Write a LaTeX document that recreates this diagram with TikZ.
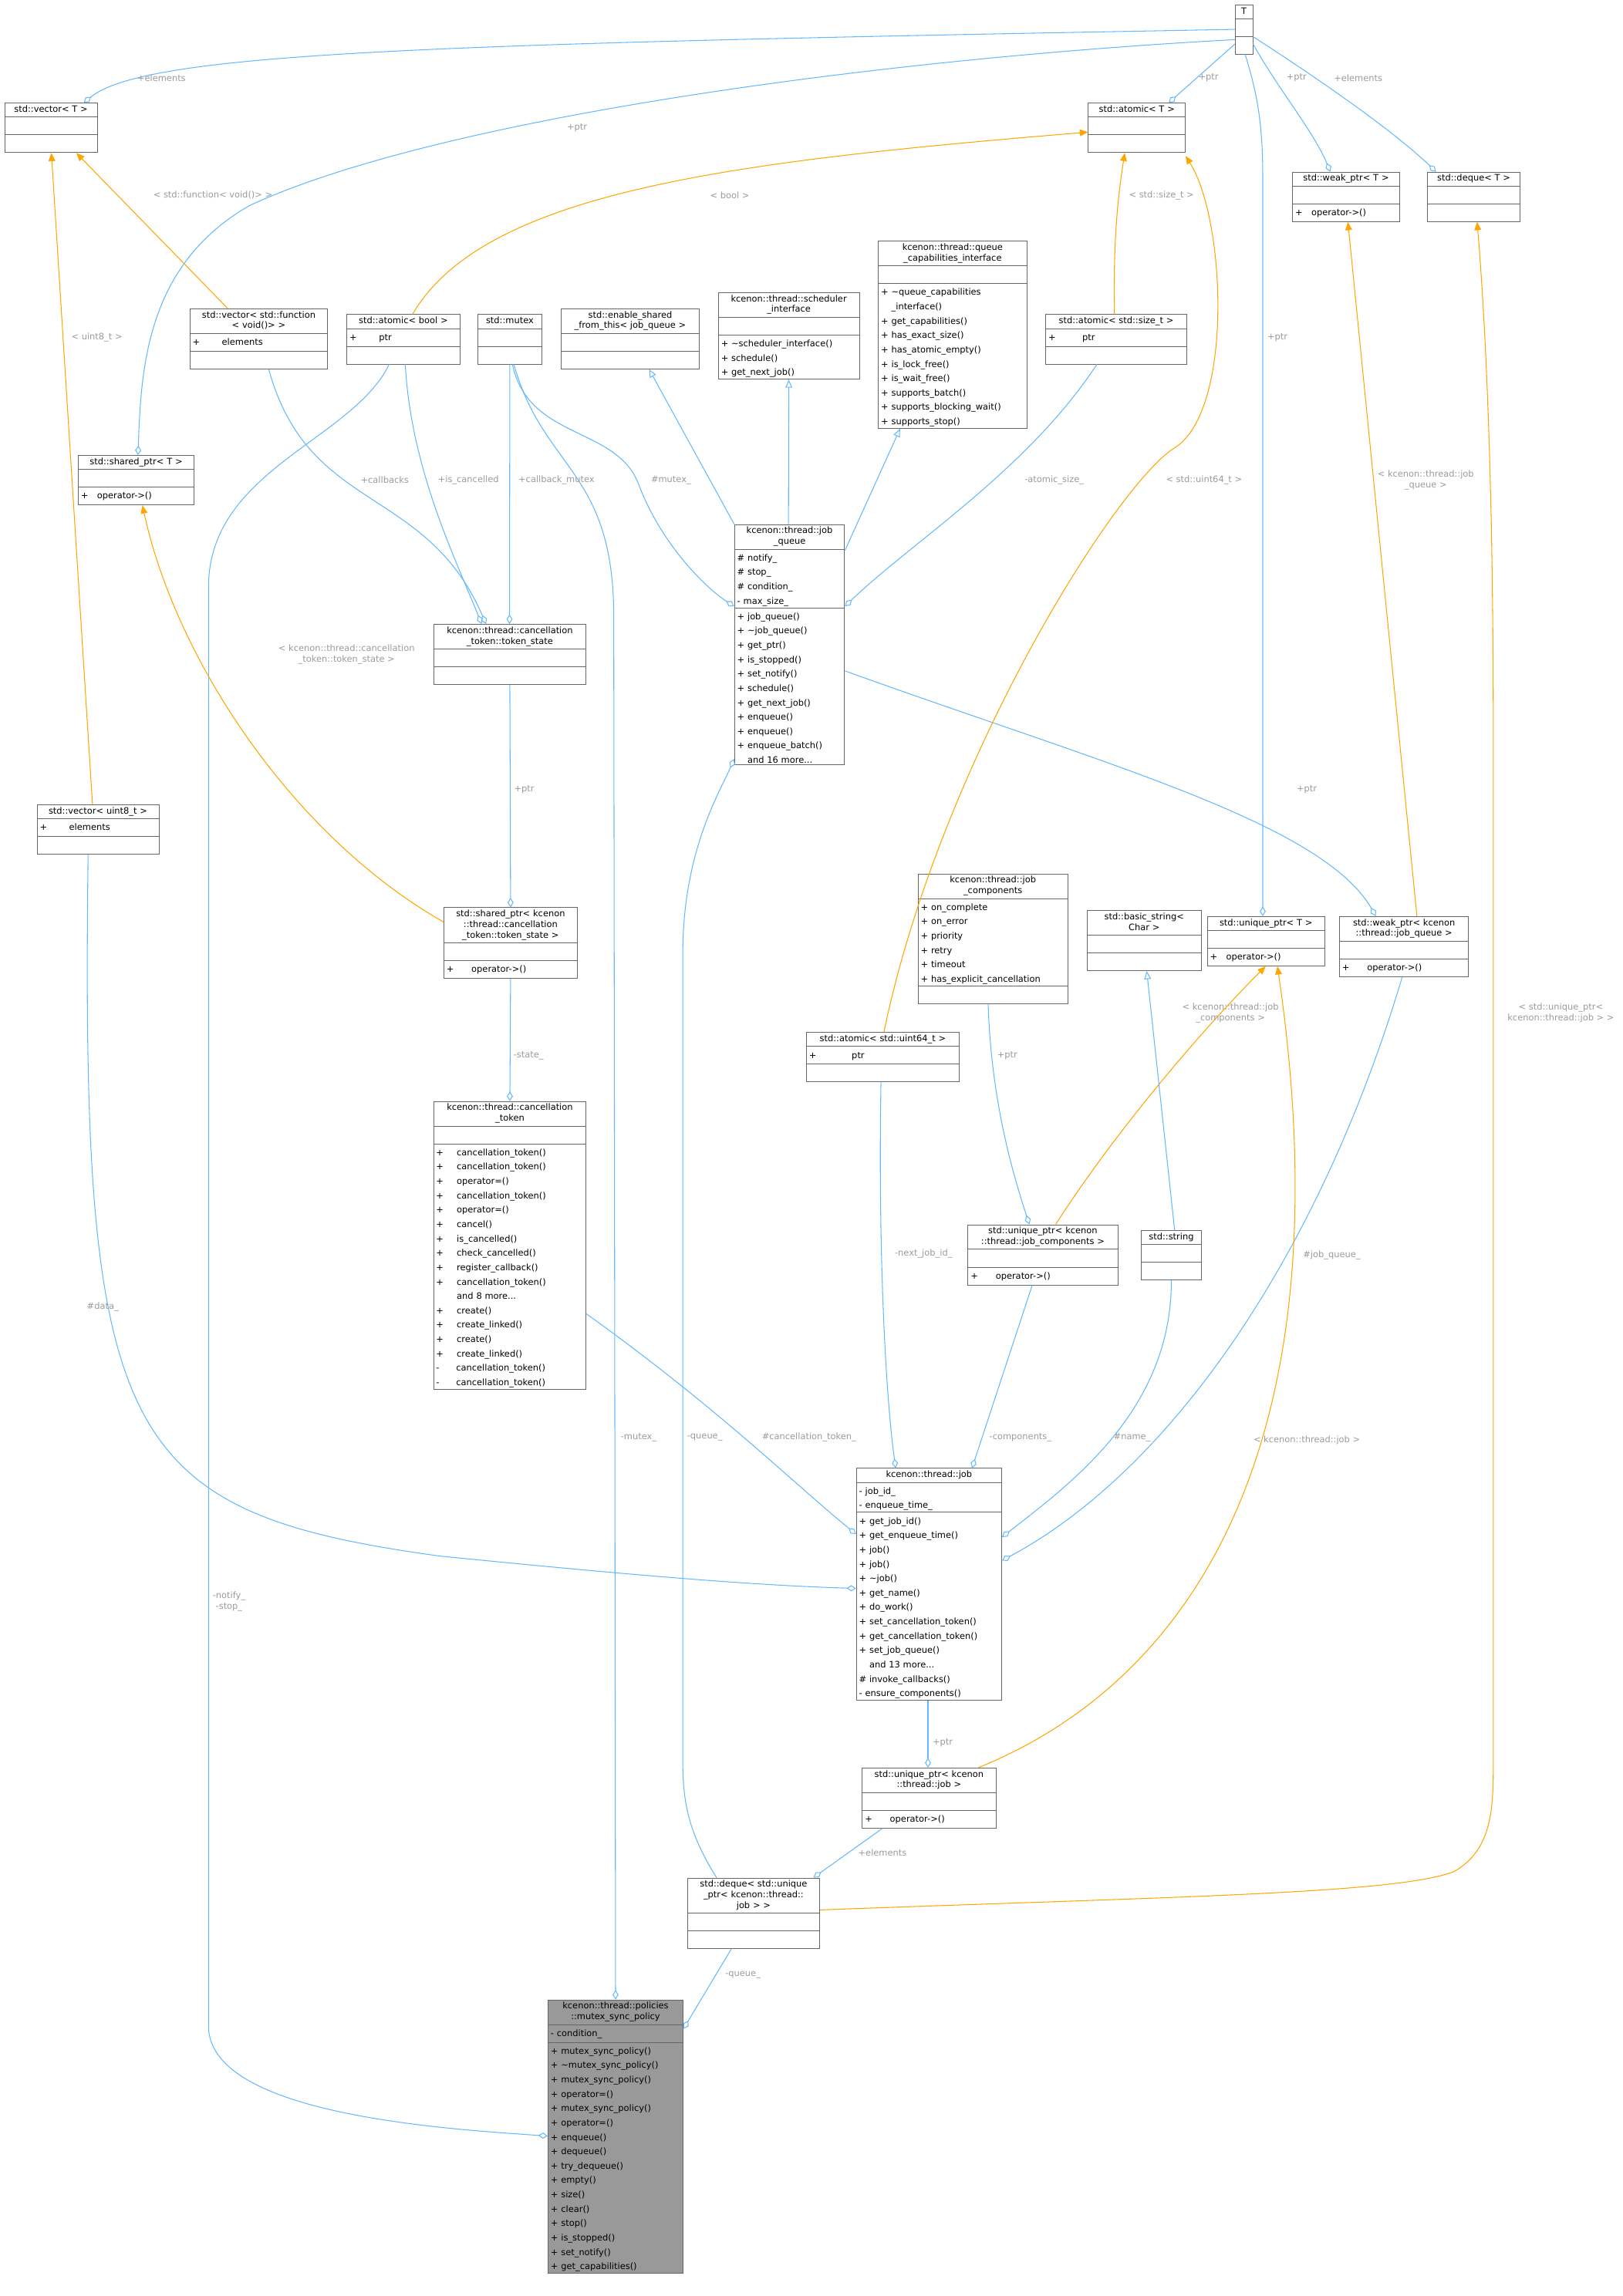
\documentclass[tikz,border=0pt]{standalone}
\usepackage{fontspec}
\setmainfont{DejaVu Sans}
\usepackage{tikz}
\usetikzlibrary{arrows.meta,shapes.multipart,calc}
\definecolor{eblue}{HTML}{63B8FF}
\definecolor{eorange}{HTML}{FFA500}
\definecolor{lgray}{HTML}{9A9A9A}
\definecolor{bgray}{HTML}{666666}
\tikzstyle{cls} = [draw=bgray, fill=white, line width=.5pt, rectangle split, rectangle split parts=3,
  anchor=north west, inner xsep=2pt, inner ysep=1pt, align=left, font=\fontsize{6.5}{10.6}\selectfont]
\tikzstyle{agg} = [draw=eblue, line width=.6pt, -{Diamond[open,length=7pt,width=4.5pt]}]
\tikzstyle{inh} = [draw=eblue, line width=.6pt, -{Triangle[open,length=6pt,width=5pt]}]
\tikzstyle{tpl} = [draw=eorange, line width=.6pt, -{Triangle[length=6pt,width=5pt]}]
\tikzstyle{lbl} = [text=lgray, font=\fontsize{6.5}{8}\selectfont, align=center, inner sep=0pt]
\newcommand\umlclass[8][]{%
  \pgfmathsetlengthmacro\clswidth{#5*0.03806cm-4pt}%
  \node[cls,text width=\clswidth,#1] (#2) at (#3,#4)
    {\renewcommand\arraystretch{0.74}\makebox[\linewidth]{\begin{tabular}{@{}c@{}}#6\end{tabular}}\nodepart{two}\strut#7\nodepart{three}\strut#8};}

\begin{document}
\begin{tikzpicture}[x=0.03806cm, y=-0.03806cm]
\useasboundingbox (0,0) rectangle (1105,1564);

% classes
\umlclass{T}{841}{3}{12}{T}{}{}
\umlclass{vecT}{3}{70}{63}{std::vector< T >}{}{}
\umlclass{atomT}{741}{70}{66}{std::atomic< T >}{}{}
\umlclass{weakT}{880}{117}{73}{std::weak\_ptr< T >}{}{+\quad operator->()}
\umlclass{dequeT}{972}{117}{63}{std::deque< T >}{}{}
\umlclass{qcap}{598}{164}{101}{kcenon::thread::queue\\\_capabilities\_interface}{}{+ \textasciitilde queue\_capabilities\\\phantom{+ }\_interface()\\+ get\_capabilities()\\+ has\_exact\_size()\\+ has\_atomic\_empty()\\+ is\_lock\_free()\\+ is\_wait\_free()\\+ supports\_batch()\\+ supports\_blocking\_wait()\\+ supports\_stop()}
\umlclass{sched}{489}{199}{96}{kcenon::thread::scheduler\\\_interface}{}{+ \textasciitilde scheduler\_interface()\\+ schedule()\\+ get\_next\_job()}
\umlclass{vecfunc}{129}{210}{94}{std::vector< std::function\\< void()> >}{+\hspace{2.5em}elements}{}
\umlclass{atombool}{236}{214}{77}{std::atomic< bool >}{+\hspace{2.5em}ptr}{}
\umlclass{mutex}{325}{214}{44}{std::mutex}{}{}
\umlclass{enable}{382}{210}{94}{std::enable\_shared\\\_from\_this< job\_queue >}{}{}
\umlclass{atomsize}{712}{214}{96}{std::atomic< std::size\_t >}{+\hspace{3em}ptr}{}
\umlclass{sharedT}{53}{310}{79}{std::shared\_ptr< T >}{}{+\quad operator->()}
\umlclass{jobq}{500}{357}{75}{kcenon::thread::job\\\_queue}{\# notify\_\\\# stop\_\\\# condition\_\\- max\_size\_}{+ job\_queue()\\+ \textasciitilde job\_queue()\\+ get\_ptr()\\+ is\_stopped()\\+ set\_notify()\\+ schedule()\\+ get\_next\_job()\\+ enqueue()\\+ enqueue()\\+ enqueue\_batch()\\\phantom{+ }and 16 more...}
\umlclass{tokstate}{295}{425}{104}{kcenon::thread::cancellation\\\_token::token\_state}{}{}
\umlclass{vecu8}{25}{548}{83}{std::vector< uint8\_t >}{+\hspace{2.5em}elements}{}
\umlclass{jobcomp}{625}{595}{102}{kcenon::thread::job\\\_components}{+ on\_complete\\+ on\_error\\+ priority\\+ retry\\+ timeout\\+ has\_explicit\_cancellation}{}
\umlclass{sharedts}{302}{618}{91}{std::shared\_ptr< kcenon\\::thread::cancellation\\\_token::token\_state >}{}{+\hspace{2em}operator->()}
\umlclass{basicstr}{740}{620}{78}{std::basic\_string<\\Char >}{}{}
\umlclass{uniqT}{822}{624}{80}{std::unique\_ptr< T >}{}{+\quad operator->()}
\umlclass{weakjq}{912}{624}{88}{std::weak\_ptr< kcenon\\::thread::job\_queue >}{}{+\hspace{2em}operator->()}
\umlclass{atom64}{549}{703}{104}{std::atomic< std::uint64\_t >}{+\hspace{4em}ptr}{}
\umlclass{ctoken}{295}{750}{104}{kcenon::thread::cancellation\\\_token}{}{+\hspace{1.5em}cancellation\_token()\\+\hspace{1.5em}cancellation\_token()\\+\hspace{1.5em}operator=()\\+\hspace{1.5em}cancellation\_token()\\+\hspace{1.5em}operator=()\\+\hspace{1.5em}cancel()\\+\hspace{1.5em}is\_cancelled()\\+\hspace{1.5em}check\_cancelled()\\+\hspace{1.5em}register\_callback()\\+\hspace{1.5em}cancellation\_token()\\\phantom{+}\hspace{1.5em}and 8 more...\\+\hspace{1.5em}create()\\+\hspace{1.5em}create\_linked()\\+\hspace{1.5em}create()\\+\hspace{1.5em}create\_linked()\\-\hspace{1.9em}cancellation\_token()\\-\hspace{1.9em}cancellation\_token()}
\umlclass{uptrjc}{659}{834}{102}{std::unique\_ptr< kcenon\\::thread::job\_components >}{}{+\hspace{2em}operator->()}
\umlclass{string}{777}{838}{41}{std::string}{}{}
\umlclass{job}{583}{1000}{99}{kcenon::thread::job}{- job\_id\_\\- enqueue\_time\_}{+ get\_job\_id()\\+ get\_enqueue\_time()\\+ job()\\+ job()\\+ \textasciitilde job()\\+ get\_name()\\+ do\_work()\\+ set\_cancellation\_token()\\+ get\_cancellation\_token()\\+ set\_job\_queue()\\\phantom{+ }and 13 more...\\\# invoke\_callbacks()\\- ensure\_components()}
\umlclass{uptrjob}{587}{1204}{91}{std::unique\_ptr< kcenon\\::thread::job >}{}{+\hspace{2em}operator->()}
\umlclass{dequejob}{468}{1279}{90}{std::deque< std::unique\\\_ptr< kcenon::thread::\\job > >}{}{}
\umlclass[fill={rgb,255:red,153;green,153;blue,153}]{msp}{373}{1362}{92}{kcenon::thread::policies\\::mutex\_sync\_policy}{- condition\_}{+ mutex\_sync\_policy()\\+ \textasciitilde mutex\_sync\_policy()\\+ mutex\_sync\_policy()\\+ operator=()\\+ mutex\_sync\_policy()\\+ operator=()\\+ enqueue()\\+ dequeue()\\+ try\_dequeue()\\+ empty()\\+ size()\\+ clear()\\+ stop()\\+ is\_stopped()\\+ set\_notify()\\+ get\_capabilities()}

% members
\draw[agg] ($(T.north west)+(0,17)$) .. controls (300,30) and (100,35) .. ($(vecT.north west)+(54,0)$);
\draw[agg] ($(T.north west)+(0,24)$) .. controls (600,40) and (300,80) .. (170,140) .. controls (100,180) and (96,250) .. ($(sharedT.north west)+(41,0)$);
\draw[agg] ($(T.north west)+(0,27)$) -- ($(atomT.north west)+(55,0)$);
\draw[agg] ($(T.north east)+(0,27)$) .. controls (870,60) and (895,90) .. ($(weakT.north west)+(26,0)$);
\draw[agg] ($(T.north east)+(0,22)$) .. controls (900,55) and (950,90) .. ($(dequeT.north west)+(6,0)$);
\draw[agg] ($(T.north west)+(7,34)$) .. controls (855,60) and (860,80) .. (860,120) -- ($(uniqT.north west)+(38,0)$);
\draw[agg] ($(vecfunc.south west)+(54,0)$) .. controls (210,350) and (290,330) .. ($(tokstate.north west)+(36,0)$);
\draw[agg] ($(atombool.south west)+(40,0)$) .. controls (280,320) and (310,380) .. ($(tokstate.north west)+(33,0)$);
\draw[agg] (mutex.south) -- ($(tokstate.north west)+(52,0)$);
\draw[agg] ($(mutex.south west)+(24,0)$) .. controls (360,300) and (420,290) .. (435,330) .. controls (450,370) and (480,400) .. ($(jobq.north west)+(0,56)$);
\draw[agg] ($(mutex.south west)+(25,0)$) .. controls (370,320) and (418,320) .. (418,420) -- (msp.north);
\draw[agg] ($(atombool.south west)+(29,0)$) .. controls (240,300) and (142,320) .. (142,400) -- (142,1380) .. controls (142,1440) and (300,1450) .. ($(msp.north west)+(0,93)$);
\draw[agg] ($(atomsize.south west)+(35,0)$) .. controls (700,320) and (620,370) .. ($(jobq.north east)+(0,56)$);
\draw[agg] ($(jobq.north east)+(0,100)$) .. controls (750,520) and (900,560) .. ($(weakjq.north west)+(25,0)$);
\draw[agg] (tokstate.south) -- (sharedts.north);
\draw[agg] (sharedts.south) -- (ctoken.north);
\draw[agg] ($(vecu8.south west)+(35,0)$) .. controls (55,980) and (80,1030) .. (300,1060) .. controls (450,1075) and (520,1080) .. ($(job.north west)+(0,82)$);
\draw[agg] ($(ctoken.north east)+(0,145)$) .. controls (490,960) and (540,1010) .. ($(job.north west)+(0,45)$);
\draw[agg] ($(atom64.south west)+(51,0)$) .. controls (598,850) and (603,950) .. ($(job.north west)+(27,0)$);
\draw[agg] ($(jobcomp.south west)+(48,0)$) .. controls (675,750) and (690,800) .. ($(uptrjc.north west)+(42,0)$);
\draw[agg] ($(uptrjc.south west)+(44,0)$) -- ($(job.north west)+(79,0)$);
\draw[agg] (string.south) .. controls (798,960) and (730,1010) .. ($(job.north east)+(0,47)$);
\draw[agg] ($(weakjq.south west)+(43,0)$) .. controls (900,850) and (800,1000) .. ($(job.north east)+(0,63)$);
\draw[agg] ($(job.south west)+(49,0)$) -- ($(uptrjob.north west)+(45,0)$);
\draw[agg] ($(uptrjob.south west)+(14,0)$) -- ($(dequejob.north west)+(86,0)$);
\draw[agg] ($(dequejob.north west)+(20,0)$) .. controls (470,1250) and (465,1230) .. (465,1200) -- (465,650) .. controls (465,580) and (490,540) .. ($(jobq.north west)+(0,160)$);
\draw[agg] ($(dequejob.south west)+(30,0)$) -- ($(msp.north east)+(0,20)$);

% templates
\draw[tpl] ($(vecfunc.north west)+(26,0)$) -- ($(vecT.south west)+(49,0)$);
\draw[tpl] ($(vecu8.north west)+(38,0)$) -- ($(vecT.south west)+(32,0)$);
\draw[tpl] ($(atombool.north west)+(45,0)$) .. controls (330,130) and (500,110) .. ($(atomT.north west)+(0,20)$);
\draw[tpl] ($(atomsize.north west)+(47,0)$) .. controls (758,160) and (762,130) .. ($(atomT.south west)+(25,0)$);
\draw[tpl] ($(atom64.north west)+(53,0)$) .. controls (640,520) and (760,330) .. (800,305) .. controls (840,280) and (835,150) .. ($(atomT.south east)+(0,2)$);
\draw[tpl] ($(sharedts.north west)+(0,10)$) .. controls (200,570) and (120,450) .. ($(sharedT.south west)+(44,0)$);
\draw[tpl] ($(weakjq.north west)+(53,0)$) -- ($(weakT.south west)+(38,0)$);
\draw[tpl] ($(uptrjc.north west)+(60,0)$) .. controls (760,770) and (820,700) .. ($(uniqT.south west)+(40,0)$);
\draw[tpl] ($(uptrjob.north east)+(-12,0)$) .. controls (800,1150) and (920,1000) .. ($(uniqT.south west)+(48,0)$);
\draw[tpl] ($(dequejob.north east)+(0,22)$) .. controls (800,1292) and (950,1290) .. (990,1275) .. controls (1017,1260) and (1017,1230) .. (1017,1200) -- (1017,500) .. controls (1017,300) and (1010,200) .. ($(dequeT.south west)+(34,0)$);

% bases
\draw[inh] (jobq.north west) -- ($(enable.south west)+(60,0)$);
\draw[inh] ($(jobq.north west)+(37,0)$) -- (sched.south);
\draw[inh] ($(jobq.north east)+(0,18)$) -- ($(qcap.south west)+(15,0)$);
\draw[inh] ($(string.north west)+(23,0)$) -- ($(basicstr.south west)+(41,0)$);

% labels
\node[lbl] (l-vecT) at (110,53) {+elements};
\node[lbl] (l-shT) at (393,87) {+ptr};
\node[lbl] (l-atT) at (823,53) {+ptr};
\node[lbl] (l-wkT) at (883,53) {+ptr};
\node[lbl] (l-dqT) at (925,53) {+elements};
\node[lbl] (l-unT) at (870,230) {+ptr};
\node[lbl] (l-func) at (145,133) {< std::function< void()> >};
\node[lbl] (l-bool) at (497,133) {< bool >};
\node[lbl] (l-size) at (791,133) {< std::size\_t >};
\node[lbl] (l-u8) at (66,230) {< uint8\_t >};
\node[lbl] (l-cb) at (262,327) {+callbacks};
\node[lbl] (l-isc) at (319,327) {+is\_cancelled};
\node[lbl] (l-cbm) at (379,327) {+callback\_mutex};
\node[lbl] (l-mtx) at (457,327) {\#mutex\_};
\node[lbl] (l-asz) at (718,327) {-atomic\_size\_};
\node[lbl] (l-u64) at (820,327) {< std::uint64\_t >};
\node[lbl] (l-wjq) at (971,327) {< kcenon::thread::job\\\_queue >};
\node[lbl] (l-ts) at (236,446) {< kcenon::thread::cancellation\\\_token::token\_state >};
\node[lbl] (l-tsp) at (357,538) {+ptr};
\node[lbl] (l-jqp) at (890,538) {+ptr};
\node[lbl] (l-jcn) at (838,690) {< kcenon::thread::job\\\_components >};
\node[lbl] (l-dqj) at (1063,690) {< std::unique\_ptr<\\kcenon::thread::job > >};
\node[lbl] (l-state) at (360,719) {-state\_};
\node[lbl] (l-jcp) at (686,719) {+ptr};
\node[lbl] (l-nid) at (629,854) {-next\_job\_id\_};
\node[lbl] (l-jql) at (907,855) {\#job\_queue\_};
\node[lbl] (l-data) at (70,890) {\#data\_};
\node[lbl] (l-mtx2) at (435,979) {-mutex\_};
\node[lbl] (l-q1) at (480,979) {-queue\_};
\node[lbl] (l-ct) at (551,979) {\#cancellation\_token\_};
\node[lbl] (l-cmp) at (695,979) {-components\_};
\node[lbl] (l-name) at (771,979) {\#name\_};
\node[lbl] (l-job) at (890,981) {< kcenon::thread::job >};
\node[lbl] (l-ns) at (156,1091) {-notify\_\\-stop\_};
\node[lbl] (l-jp) at (642,1187) {+ptr};
\node[lbl] (l-el) at (601,1262) {+elements};
\node[lbl] (l-q2) at (506,1345) {-queue\_};
\end{tikzpicture}
\end{document}
